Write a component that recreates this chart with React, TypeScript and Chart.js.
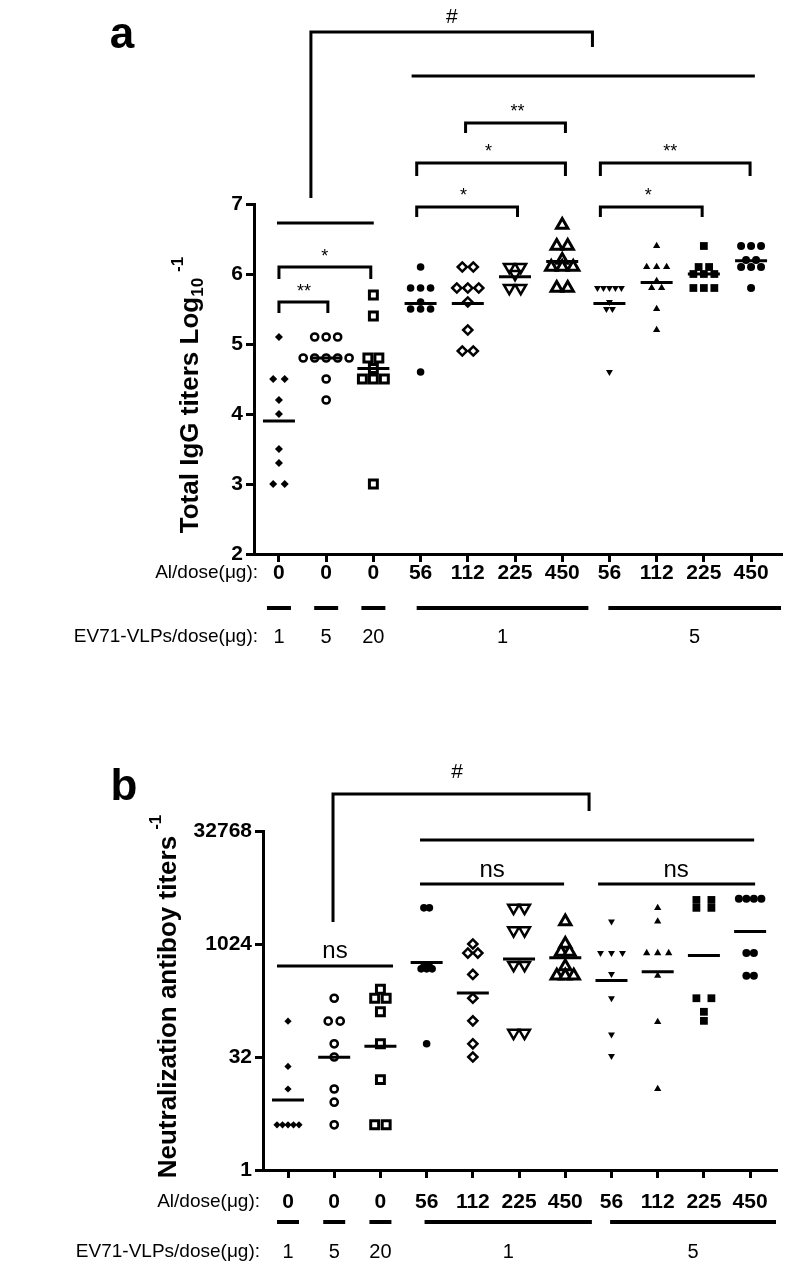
import React, { useEffect, useRef } from 'react';
import { Chart, registerables } from 'chart.js';

Chart.register(...registerables);

// ---------- categories / labels ----------
const AL_DOSE_LABELS = ['0', '0', '0', '56', '112', '225', '450', '56', '112', '225', '450'];
const VLP_DOSE_LABELS = ['1', '5', '20', '1', '5'];
const IGG_TICKS = [2, 3, 4, 5, 6, 7];
const NAB_TICKS = [1, 32, 1024, 32768];

// ---------- panel a: total IgG titers (log10) ----------
const IGG_VLP1 = [5.1, 4.5, 4.5, 4.2, 4.0, 3.5, 3.3, 3.0, 3.0];
const IGG_VLP5 = [5.1, 5.1, 5.1, 4.8, 4.8, 4.8, 4.8, 4.8, 4.5, 4.2];
const IGG_VLP20 = [5.7, 5.4, 4.8, 4.8, 4.65, 4.5, 4.5, 4.5, 3.0];
const IGG_V1_AL56 = [6.1, 5.8, 5.8, 5.8, 5.6, 5.5, 5.5, 5.5, 4.6];
const IGG_V1_AL112 = [6.1, 6.1, 5.8, 5.8, 5.8, 5.6, 5.2, 4.9, 4.9];
const IGG_V1_AL225 = [6.1, 6.1, 6.0, 5.8, 5.8];
const IGG_V1_AL450 = [6.7, 6.4, 6.4, 6.2, 6.1, 6.1, 6.1, 5.8, 5.8];
const IGG_V5_AL56 = [5.8, 5.8, 5.8, 5.8, 5.8, 5.6, 5.5, 5.5, 4.6];
const IGG_V5_AL112 = [6.4, 6.1, 6.1, 6.1, 5.9, 5.8, 5.8, 5.5, 5.2];
const IGG_V5_AL225 = [6.4, 6.1, 6.1, 6.0, 6.0, 6.0, 5.8, 5.8, 5.8];
const IGG_V5_AL450 = [6.4, 6.4, 6.4, 6.2, 6.2, 6.1, 6.1, 6.1, 5.8];

// ---------- panel b: neutralization antibody titers ----------
const NAB_VLP1 = [96, 24, 12, 4, 4, 4, 4, 4];
const NAB_VLP5 = [194, 96, 96, 48, 32, 12, 8, 4];
const NAB_VLP20 = [256, 194, 194, 128, 48, 16, 4, 4];
const NAB_V1_AL56 = [3104, 3104, 512, 512, 478, 478, 478, 48];
const NAB_V1_AL112 = [1024, 776, 776, 402, 194, 97, 48, 32];
const NAB_V1_AL225 = [3104, 3104, 1552, 1552, 537, 537, 67, 67];
const NAB_V1_AL450 = [2048, 1024, 803, 803, 512, 388, 388, 388];
const NAB_V5_AL56 = [2048, 776, 776, 776, 407, 194, 64, 33];
const NAB_V5_AL112 = [3104, 2048, 776, 776, 776, 388, 94, 12];
const NAB_V5_AL225 = [3956, 3956, 3104, 3104, 194, 194, 128, 97];
const NAB_V5_AL450 = [4096, 4096, 4096, 4096, 776, 776, 388, 388];

const IGG_SERIES = [IGG_VLP1, IGG_VLP5, IGG_VLP20, IGG_V1_AL56, IGG_V1_AL112, IGG_V1_AL225, IGG_V1_AL450, IGG_V5_AL56, IGG_V5_AL112, IGG_V5_AL225, IGG_V5_AL450];
const NAB_SERIES = [NAB_VLP1, NAB_VLP5, NAB_VLP20, NAB_V1_AL56, NAB_V1_AL112, NAB_V1_AL225, NAB_V1_AL450, NAB_V5_AL56, NAB_V5_AL112, NAB_V5_AL225, NAB_V5_AL450];

// ---------- styles ----------
const NARROW = '"Liberation Sans Narrow", "Arial Narrow", "Liberation Sans", Arial, sans-serif';
const SANS = '"Liberation Sans", Arial, Helvetica, sans-serif';

type MarkerStyle = { pointStyle: string; radius: number; rotation?: number; open?: boolean; bw?: number; step: number };

const STYLES_A: MarkerStyle[] = [
  { pointStyle: 'rectRot', radius: 4, step: 11.5 },
  { pointStyle: 'circle', radius: 3.6, open: true, bw: 2.5, step: 11.5 },
  { pointStyle: 'rect', radius: 5.6, open: true, bw: 3, step: 11 },
  { pointStyle: 'circle', radius: 3.8, step: 10 },
  { pointStyle: 'rectRot', radius: 4.6, open: true, bw: 2.5, step: 11 },
  { pointStyle: 'triangle', radius: 6.2, rotation: 180, open: true, bw: 2.5, step: 11.5 },
  { pointStyle: 'triangle', radius: 6.5, open: true, bw: 3, step: 11 },
  { pointStyle: 'triangle', radius: 4, rotation: 180, step: 6 },
  { pointStyle: 'triangle', radius: 4.2, step: 10 },
  { pointStyle: 'rect', radius: 5.5, step: 10.5 },
  { pointStyle: 'circle', radius: 4, step: 10 },
];

const STYLES_B: MarkerStyle[] = [
  { pointStyle: 'rectRot', radius: 3.6, step: 5.5 },
  { pointStyle: 'circle', radius: 3.6, open: true, bw: 2.5, step: 12 },
  { pointStyle: 'rect', radius: 5.6, open: true, bw: 3, step: 11.5 },
  { pointStyle: 'circle', radius: 3.8, step: 5.5 },
  { pointStyle: 'rectRot', radius: 4.6, open: true, bw: 2.5, step: 10 },
  { pointStyle: 'triangle', radius: 6.2, rotation: 180, open: true, bw: 2.5, step: 11 },
  { pointStyle: 'triangle', radius: 6.5, open: true, bw: 3, step: 8.5 },
  { pointStyle: 'triangle', radius: 4, rotation: 180, step: 11 },
  { pointStyle: 'triangle', radius: 4.2, step: 11 },
  { pointStyle: 'rect', radius: 5.5, step: 15 },
  { pointStyle: 'circle', radius: 4, step: 7.5 },
];

// ---------- annotations (x in group units, y in axis units; panel b y in log2) ----------
type Bracket = { x1: number; x2: number; y: number; y1?: number; y2?: number };
type Note = { text: string; x: number; y: number; font: string };

const A_BRACKETS: Bracket[] = [
  { x1: 1.677, x2: 7.64, y: 9.457, y1: 7.086, y2: 9.243 },
  { x1: 3.81, x2: 11.08, y: 8.83 },
  { x1: 4.953, x2: 7.068, y: 8.157, y1: 8.014, y2: 8.014 },
  { x1: 3.918, x2: 7.068, y: 7.586, y1: 7.4, y2: 7.4 },
  { x1: 7.808, x2: 10.979, y: 7.586, y1: 7.4, y2: 7.4 },
  { x1: 3.918, x2: 6.053, y: 6.957, y1: 6.814, y2: 6.814 },
  { x1: 7.808, x2: 9.964, y: 6.957, y1: 6.814, y2: 6.814 },
  { x1: 0.958, x2: 3.0085, y: 6.729 },
  { x1: 1.0, x2: 2.945, y: 6.1, y1: 5.929, y2: 5.929 },
  { x1: 1.0, x2: 2.036, y: 5.6, y1: 5.443, y2: 5.443 },
];
const A_NOTES: Note[] = [
  { text: '#', x: 4.66, y: 9.586, font: `21px ${SANS}` },
  { text: '**', x: 6.053, y: 8.243, font: `18px ${SANS}` },
  { text: '*', x: 5.44, y: 7.671, font: `18px ${SANS}` },
  { text: '**', x: 9.29, y: 7.671, font: `18px ${SANS}` },
  { text: '*', x: 4.911, y: 7.043, font: `18px ${SANS}` },
  { text: '*', x: 8.822, y: 7.043, font: `18px ${SANS}` },
  { text: '*', x: 1.972, y: 6.171, font: `18px ${SANS}` },
  { text: '**', x: 1.529, y: 5.671, font: `18px ${SANS}` },
];
const B_BRACKETS: Bracket[] = [
  { x1: 1.974, x2: 7.515, y: 16.637, y1: 10.973, y2: 15.885 },
  { x1: 3.857, x2: 11.087, y: 14.602 },
  { x1: 3.857, x2: 6.974, y: 12.655 },
  { x1: 7.71, x2: 11.108, y: 12.655 },
  { x1: 0.762, x2: 3.273, y: 9.027 },
];
const B_NOTES: Note[] = [
  { text: '#', x: 4.658, y: 17.345, font: `21px ${SANS}` },
  { text: 'ns', x: 5.416, y: 12.965, font: `24px ${NARROW}` },
  { text: 'ns', x: 9.399, y: 12.965, font: `24px ${NARROW}` },
  { text: 'ns', x: 2.017, y: 9.381, font: `24px ${NARROW}` },
];

type PanelCfg = {
  height: number;
  area: { left: number; right: number; top: number; bottom: number };
  xRange: [number, number];
  series: number[][];
  styles: MarkerStyle[];
  log: boolean;
  yMin: number;
  yMax: number;
  yTicks: number[];
  brackets: Bracket[];
  notes: Note[];
  tickPad: number;
  letter: string;
  letterPos: [number, number];
  title: { main: string; sub?: string; sup: string; cx: number; dy: number };
  rowLabelRight: number;
  rowLabelDy: number;
  barDy: number;
  vlpDy: number;
  vlpBars: [number, number][];
};

const PANEL_A: PanelCfg = {
  height: 660,
  area: { left: 254, right: 782, top: 204, bottom: 554 },
  xRange: [0.4715, 11.634],
  series: IGG_SERIES,
  styles: STYLES_A,
  log: false,
  yMin: 2,
  yMax: 7,
  yTicks: IGG_TICKS,
  brackets: A_BRACKETS,
  notes: A_NOTES,
  tickPad: -1,
  letter: 'a',
  letterPos: [122, 48],
  title: { main: 'Total IgG titers Log', sub: '10', sup: '-1', cx: 189, dy: 16 },
  rowLabelRight: 258,
  rowLabelDy: 19,
  barDy: 54,
  vlpDy: 83,
  vlpBars: [[0.746, 1.254], [1.746, 2.254], [2.746, 3.254], [3.917, 7.554], [7.977, 11.634]],
};

const PANEL_B: PanelCfg = {
  height: 609,
  area: { left: 263, right: 776, top: 171, bottom: 510 },
  xRange: [0.459, 11.56],
  series: NAB_SERIES,
  styles: STYLES_B,
  log: true,
  yMin: 1,
  yMax: 32768,
  yTicks: NAB_TICKS,
  brackets: B_BRACKETS,
  notes: B_NOTES,
  tickPad: 12,
  letter: 'b',
  letterPos: [124, 140],
  title: { main: 'Neutralization antiboy titers', sup: '-1', cx: 167, dy: -4 },
  rowLabelRight: 260,
  rowLabelDy: 32,
  barDy: 52,
  vlpDy: 82,
  vlpBars: [[0.762, 1.238], [1.762, 2.238], [2.762, 3.238], [3.955, 7.576], [7.97, 11.56]],
};

function mean(vals: number[], log: boolean): number {
  if (log) {
    const s = vals.reduce((a, v) => a + Math.log2(v), 0) / vals.length;
    return Math.pow(2, s);
  }
  return vals.reduce((a, v) => a + v, 0) / vals.length;
}

function buildDatasets(cfg: PanelCfg, unitPx: number) {
  const meanSet: any = {
    data: cfg.series.map((vals, gi) => ({ x: gi + 1, y: mean(vals, cfg.log) })),
    pointStyle: 'line',
    pointRadius: 16,
    pointBorderWidth: 3,
    pointBorderColor: '#000',
    pointBackgroundColor: '#000',
    showLine: false,
  };
  const sets: any[] = [meanSet];
  cfg.series.forEach((vals, gi) => {
    const st = cfg.styles[gi];
    const counts = new Map<number, number>();
    vals.forEach((v) => counts.set(v, (counts.get(v) || 0) + 1));
    const seen = new Map<number, number>();
    const data = vals.map((v) => {
      const n = counts.get(v) || 1;
      const k = seen.get(v) || 0;
      seen.set(v, k + 1);
      const off = ((k - (n - 1) / 2) * st.step) / unitPx;
      return { x: gi + 1 + off, y: v };
    });
    sets.push({
      data,
      pointStyle: st.pointStyle,
      pointRadius: st.radius,
      pointRotation: st.rotation || 0,
      pointBackgroundColor: st.open ? '#fff' : '#000',
      pointBorderColor: '#000',
      pointBorderWidth: st.open ? st.bw : 0,
      showLine: false,
    });
  });
  return sets;
}

function makePlugin(cfg: PanelCfg) {
  return {
    id: 'annot' + cfg.letter,
    afterDraw(chart: any) {
      const ctx: CanvasRenderingContext2D = chart.ctx;
      const xs = chart.scales.x;
      const ys = chart.scales.y;
      const yp = (v: number) => ys.getPixelForValue(cfg.log ? Math.pow(2, v) : v);
      const bottom = chart.chartArea.bottom;
      ctx.save();
      ctx.strokeStyle = '#000';
      ctx.fillStyle = '#000';
      ctx.lineWidth = 3;
      ctx.lineCap = 'butt';
      ctx.lineJoin = 'miter';
      cfg.brackets.forEach((b) => {
        const x1 = xs.getPixelForValue(b.x1);
        const x2 = xs.getPixelForValue(b.x2);
        const y = yp(b.y);
        ctx.beginPath();
        if (b.y1 !== undefined) {
          ctx.moveTo(x1, yp(b.y1));
          ctx.lineTo(x1, y);
        } else ctx.moveTo(x1, y);
        ctx.lineTo(x2, y);
        if (b.y2 !== undefined) ctx.lineTo(x2, yp(b.y2));
        ctx.stroke();
      });
      ctx.textAlign = 'center';
      ctx.textBaseline = 'alphabetic';
      cfg.notes.forEach((n) => {
        ctx.font = n.font;
        ctx.fillText(n.text, xs.getPixelForValue(n.x), yp(n.y));
      });

      // panel letter
      ctx.font = `bold 44px ${SANS}`;
      ctx.fillText(cfg.letter, cfg.letterPos[0], cfg.letterPos[1]);

      // row labels
      ctx.textAlign = 'right';
      ctx.textBaseline = 'middle';
      ctx.font = `19px ${SANS}`;
      ctx.fillText('Al/dose(\u03bcg):', cfg.rowLabelRight, bottom + cfg.rowLabelDy);
      ctx.fillText('EV71-VLPs/dose(\u03bcg):', cfg.rowLabelRight, bottom + cfg.vlpDy);

      // VLP dose bars and labels
      ctx.lineWidth = 4;
      ctx.textAlign = 'center';
      ctx.font = `20px ${NARROW}`;
      cfg.vlpBars.forEach((bar, i) => {
        const x1 = xs.getPixelForValue(bar[0]);
        const x2 = xs.getPixelForValue(bar[1]);
        ctx.beginPath();
        ctx.moveTo(x1, bottom + cfg.barDy);
        ctx.lineTo(x2, bottom + cfg.barDy);
        ctx.stroke();
        ctx.fillText(VLP_DOSE_LABELS[i], (x1 + x2) / 2, bottom + cfg.vlpDy);
      });

      // y axis title (rotated)
      const t = cfg.title;
      const mainFont = `bold 26px ${SANS}`;
      const smallFont = `bold 17px ${SANS}`;
      ctx.font = mainFont;
      const wMain = ctx.measureText(t.main).width;
      ctx.font = smallFont;
      const wSub = t.sub ? ctx.measureText(t.sub).width : 0;
      const wSup = ctx.measureText(t.sup).width;
      const gap = 6;
      const total = wMain + wSub + gap + wSup;
      const cy = (chart.chartArea.top + chart.chartArea.bottom) / 2 + t.dy;
      ctx.translate(t.cx, cy);
      ctx.rotate(-Math.PI / 2);
      ctx.textAlign = 'left';
      ctx.textBaseline = 'alphabetic';
      let x = -total / 2;
      ctx.font = mainFont;
      ctx.fillText(t.main, x, 9);
      x += wMain;
      ctx.font = smallFont;
      if (t.sub) {
        ctx.fillText(t.sub, x, 14);
        x += wSub;
      }
      x += gap;
      ctx.fillText(t.sup, x, -6);
      ctx.restore();
    },
  };
}

function Panel({ cfg }: { cfg: PanelCfg }) {
  const ref = useRef<HTMLCanvasElement | null>(null);
  useEffect(() => {
    if (!ref.current) return;
    const unitPx = (cfg.area.right - cfg.area.left) / (cfg.xRange[1] - cfg.xRange[0]);
    const xAxisH = 40;
    const axisColor = '#000';
    const chart = new Chart(ref.current, {
      type: 'scatter',
      data: { datasets: buildDatasets(cfg, unitPx) },
      plugins: [makePlugin(cfg)],
      options: {
        animation: false,
        responsive: false,
        maintainAspectRatio: false,
        devicePixelRatio: 1,
        events: [],
        layout: {
          padding: {
            left: 0,
            right: 800 - cfg.area.right,
            top: cfg.area.top,
            bottom: cfg.height - cfg.area.bottom - xAxisH,
          },
        },
        plugins: { legend: { display: false }, tooltip: { enabled: false } },
        scales: {
          x: {
            type: 'linear',
            min: cfg.xRange[0],
            max: cfg.xRange[1],
            afterBuildTicks: (s: any) => {
              s.ticks = AL_DOSE_LABELS.map((_, i) => ({ value: i + 1 }));
            },
            afterFit: (s: any) => {
              s.height = xAxisH;
            },
            ticks: {
              callback: (v: any) => AL_DOSE_LABELS[Math.round(Number(v)) - 1],
              font: { family: NARROW, size: 21, weight: 'bold' },
              color: '#000',
              padding: cfg.tickPad,
              maxRotation: 0,
              autoSkip: false,
            },
            grid: { drawOnChartArea: false, drawTicks: true, tickLength: 8, lineWidth: 3, color: axisColor },
            border: { display: true, width: 3, color: axisColor },
          },
          y: {
            type: cfg.log ? 'logarithmic' : 'linear',
            min: cfg.yMin,
            max: cfg.yMax,
            afterBuildTicks: (s: any) => {
              s.ticks = cfg.yTicks.map((v) => ({ value: v }));
            },
            afterFit: (s: any) => {
              s.width = cfg.area.left;
            },
            ticks: {
              callback: (v: any) => String(v),
              font: { family: NARROW, size: 21, weight: 'bold' },
              color: '#000',
              padding: 3,
              autoSkip: false,
            },
            grid: { drawOnChartArea: false, drawTicks: true, tickLength: 8, lineWidth: 3, color: axisColor },
            border: { display: true, width: 3, color: axisColor },
          },
        },
      } as any,
    });
    return () => chart.destroy();
  }, [cfg]);
  return <canvas ref={ref} width={800} height={cfg.height} style={{ display: 'block', width: 800, height: cfg.height }} />;
}

export default function App() {
  return (
    <div style={{ position: 'absolute', left: 0, top: 0, width: 800, height: 1269, background: '#fff' }}>
      <div style={{ position: 'absolute', left: 0, top: 0 }}>
        <Panel cfg={PANEL_A} />
      </div>
      <div style={{ position: 'absolute', left: 0, top: 660 }}>
        <Panel cfg={PANEL_B} />
      </div>
    </div>
  );
}
